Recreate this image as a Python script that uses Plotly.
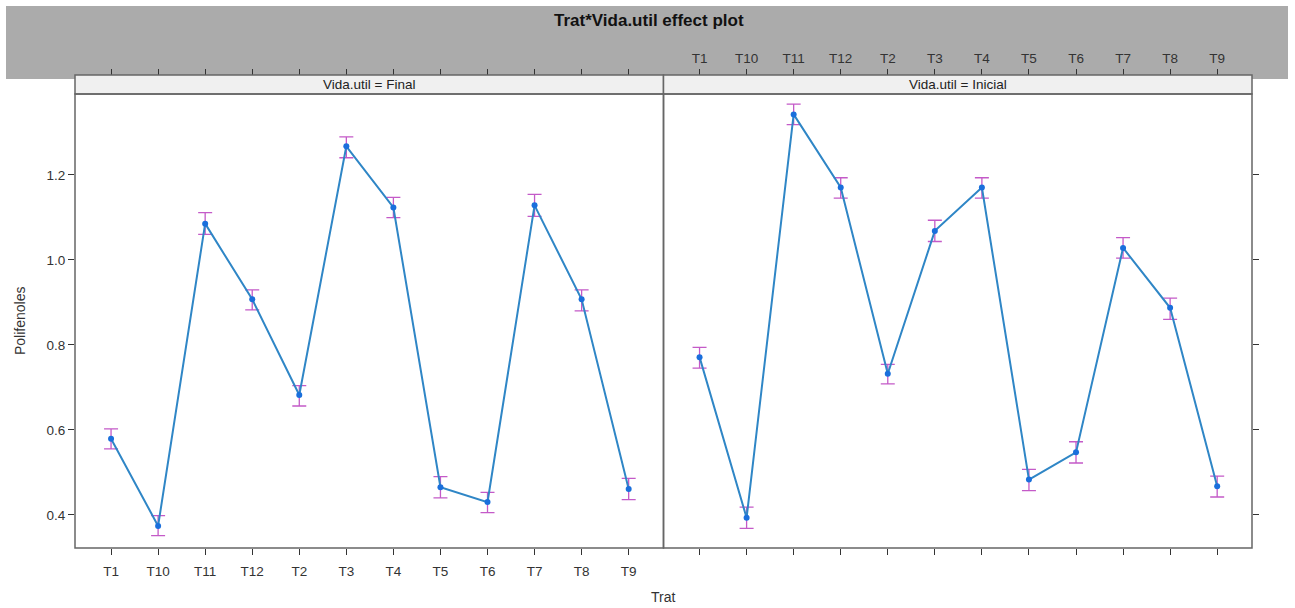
import plotly.graph_objects as go

trat = ["T1", "T10", "T11", "T12", "T2", "T3", "T4", "T5", "T6", "T7", "T8", "T9"]

final_fit = [0.579, 0.374, 1.085, 0.907, 0.682, 1.267, 1.123, 0.465, 0.430, 1.128, 0.907, 0.461]
final_upper = [0.602, 0.398, 1.111, 0.929, 0.704, 1.289, 1.147, 0.490, 0.453, 1.154, 0.929, 0.486]
final_lower = [0.555, 0.351, 1.060, 0.882, 0.656, 1.240, 1.099, 0.440, 0.405, 1.102, 0.880, 0.436]

inicial_fit = [0.771, 0.393, 1.342, 1.170, 0.732, 1.068, 1.170, 0.483, 0.547, 1.028, 0.887, 0.467]
inicial_upper = [0.794, 0.418, 1.366, 1.193, 0.754, 1.093, 1.193, 0.507, 0.572, 1.052, 0.910, 0.491]
inicial_lower = [0.745, 0.368, 1.318, 1.145, 0.708, 1.043, 1.145, 0.457, 0.522, 1.004, 0.860, 0.442]

y_ticks = [0.4, 0.6, 0.8, 1.0, 1.2]
panels = ["Vida.util = Final", "Vida.util = Inicial"]

W, H = 1295, 608
LINE = "#2f86c6"
PT = "#1a6fdc"
ERR = "#c45ac8"
BORDER = "#666666"
FONT = "Liberation Sans, Arial, sans-serif"


def px(x):
    return x / W


def py(y):
    return (H - y) / H


x_left = [px(75), px(663.5)]
x_right = [px(663.5), px(1252)]
y_dom = [py(548), py(94)]
xr = [-0.766, 11.74]
yr = [0.322, 1.39]

fig = go.Figure()


def add_panel(fit, up, lo, xa, ya):
    fig.add_trace(go.Scatter(
        x=trat, y=fit, xaxis=xa, yaxis=ya, mode="lines+markers",
        line=dict(color=LINE, width=2),
        marker=dict(color=PT, size=6),
        error_y=dict(type="data", symmetric=False,
                     array=[u - f for u, f in zip(up, fit)],
                     arrayminus=[f - l for f, l in zip(fit, lo)],
                     color=ERR, thickness=1.3, width=7),
        showlegend=False, hoverinfo="x+y",
    ))


add_panel(final_fit, final_upper, final_lower, "x", "y")
add_panel(inicial_fit, inicial_upper, inicial_lower, "x2", "y2")

# dummy traces for the top tick axes
for xa in ["x3", "x4"]:
    fig.add_trace(go.Scatter(x=trat, y=final_fit, xaxis=xa, yaxis="y",
                             mode="markers", marker=dict(opacity=0),
                             showlegend=False, hoverinfo="skip"))

tick_font = dict(family=FONT, size=13.5, color="#333333")
common_x = dict(type="category", categoryorder="array", categoryarray=trat,
                range=xr, showgrid=False, zeroline=False, ticks="outside",
                ticklen=6, tickcolor="#333333", tickwidth=1, tickfont=tick_font,
                showline=False)
common_y = dict(range=yr, showgrid=False, zeroline=False, ticks="outside",
                ticklen=6, tickcolor="#333333", tickwidth=1, tickfont=tick_font,
                tickvals=y_ticks, tickformat=".1f", showline=False)

strip_top = py(75)

fig.update_layout(
    width=W, height=H, margin=dict(l=0, r=0, t=0, b=0),
    paper_bgcolor="white", plot_bgcolor="rgba(0,0,0,0)",
    xaxis=dict(domain=x_left, anchor="y", ticklabelstandoff=5, **common_x),
    xaxis2=dict(domain=x_right, anchor="y2", showticklabels=False, **common_x),
    xaxis3=dict(domain=x_left, anchor="free", position=strip_top, side="top",
                overlaying="x", showticklabels=False, **common_x),
    xaxis4=dict(domain=x_right, anchor="free", position=strip_top, side="top",
                overlaying="x2", showticklabels=True, ticklabelstandoff=1, **common_x),
    yaxis=dict(domain=y_dom, anchor="x", **common_y),
    yaxis2=dict(domain=y_dom, anchor="x2", side="right", showticklabels=False, **common_y),
)

shapes = [
    dict(type="rect", xref="paper", yref="paper", x0=px(6), x1=px(1288),
         y0=py(79), y1=py(6), fillcolor="#ababab", line=dict(width=0), layer="below"),
]
for dom in (x_left, x_right):
    shapes.append(dict(type="rect", xref="paper", yref="paper", x0=dom[0], x1=dom[1],
                       y0=py(94), y1=strip_top, fillcolor="#f0f0f0",
                       line=dict(color=BORDER, width=1.5), layer="above"))
    shapes.append(dict(type="rect", xref="paper", yref="paper", x0=dom[0], x1=dom[1],
                       y0=y_dom[0], y1=y_dom[1], fillcolor="rgba(0,0,0,0)",
                       line=dict(color=BORDER, width=1.5), layer="above"))
fig.update_layout(shapes=shapes)

annotations = [
    dict(text="<b>Trat*Vida.util effect plot</b>", x=px(649), y=py(20), xref="paper",
         yref="paper", showarrow=False, font=dict(family=FONT, size=17, color="#111111"),
         xanchor="center", yanchor="middle"),
    dict(text="Trat", x=px(663), y=py(597), xref="paper", yref="paper", showarrow=False,
         font=dict(family=FONT, size=14, color="#333333"), xanchor="center", yanchor="middle"),
    dict(text="Polifenoles", x=px(20), y=py(321), xref="paper", yref="paper",
         showarrow=False, textangle=-90,
         font=dict(family=FONT, size=14, color="#333333"), xanchor="center", yanchor="middle"),
]
for dom, label in zip((x_left, x_right), panels):
    annotations.append(dict(text=label, x=(dom[0] + dom[1]) / 2, y=py(85), xref="paper",
                            yref="paper", showarrow=False,
                            font=dict(family=FONT, size=13.5, color="#222222"),
                            xanchor="center", yanchor="middle"))
fig.update_layout(annotations=annotations)

fig.write_html("out.html", config={"displayModeBar": False},
               post_script="document.body.style.margin='0px';")
